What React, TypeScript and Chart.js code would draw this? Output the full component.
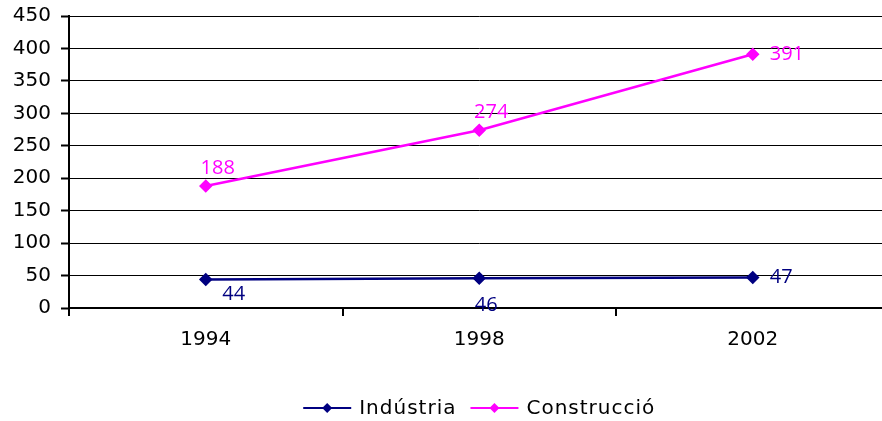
import React, { useEffect, useRef } from "react";
import { Chart, registerables } from "chart.js";

Chart.register(...registerables);

// ---- data ----
const years: string[] = ["1994", "1998", "2002"];
const industria: number[] = [44, 46, 47];
const construccio: number[] = [188, 274, 391];
const seriesNames: string[] = ["Indústria", "Construcció"];
const yMin = 0;
const yMax = 450;
const yStep = 50;

// ---- styles ----
const seriesColors = ["#000080", "#FF00FF"];
const labelPlacement: string[][] = [
  ["belowRight", "below", "right"],
  ["aboveRight", "aboveRight", "right"],
];
const AXIS_FONT = "'DejaVu Sans', sans-serif";
const LABEL_FONT = "'Open Sans', sans-serif";

const dataLabelPlugin = {
  id: "dataLabels",
  afterDatasetsDraw(chart: any) {
    const ctx = chart.ctx;
    ctx.save();
    ctx.font = `20px ${LABEL_FONT}`;
    ctx.textBaseline = "middle";
    chart.data.datasets.forEach((ds: any, di: number) => {
      const meta = chart.getDatasetMeta(di);
      meta.data.forEach((pt: any, i: number) => {
        const v = ds.data[i];
        let x = pt.x;
        let y = pt.y;
        let align: CanvasTextAlign = "center";
        switch (labelPlacement[di][i]) {
          case "right":
            x += 17;
            align = "left";
            break;
          case "aboveRight":
            x += 12;
            y -= 18;
            break;
          case "belowRight":
            x += 28;
            y += 15;
            break;
          case "below":
            x += 7;
            y += 27;
            break;
        }
        ctx.textAlign = align;
        ctx.fillStyle = seriesColors[di];
        ctx.fillText(String(v), x, y);
      });
    });
    ctx.restore();
  },
};

const legendPlugin = {
  id: "customLegend",
  afterDraw(chart: any) {
    const ctx = chart.ctx;
    const area = chart.chartArea;
    ctx.save();
    ctx.font = `20px ${AXIS_FONT}`;
    ctx.textBaseline = "middle";
    ctx.textAlign = "left";
    try {
      (ctx as any).letterSpacing = "1px";
    } catch (e) {}
    const lineW = 48;
    const gapText = 8;
    const gapItem = 14;
    const names = chart.data.datasets.map((d: any) => d.label);
    const widths = names.map((n: string) => ctx.measureText(n).width);
    let total = 0;
    widths.forEach((w: number, i: number) => {
      total += lineW + gapText + w + (i < widths.length - 1 ? gapItem : 0);
    });
    let x = (area.left + area.right) / 2 - total / 2;
    const y = 408;
    names.forEach((n: string, i: number) => {
      const c = chart.data.datasets[i].borderColor;
      ctx.strokeStyle = c;
      ctx.lineWidth = 2;
      ctx.beginPath();
      ctx.moveTo(x, y);
      ctx.lineTo(x + lineW, y);
      ctx.stroke();
      const cx = x + lineW / 2;
      ctx.fillStyle = c;
      ctx.beginPath();
      ctx.moveTo(cx, y - 5);
      ctx.lineTo(cx + 5, y);
      ctx.lineTo(cx, y + 5);
      ctx.lineTo(cx - 5, y);
      ctx.closePath();
      ctx.fill();
      ctx.fillStyle = "#000";
      ctx.fillText(n, x + lineW + gapText, y + 1);
      x += lineW + gapText + widths[i] + gapItem;
    });
    ctx.restore();
  },
};

export default function App() {
  const ref = useRef<HTMLCanvasElement | null>(null);

  useEffect(() => {
    if (!ref.current) return;
    const chart = new Chart(ref.current, {
      type: "line",
      data: {
        labels: years,
        datasets: [
          {
            label: seriesNames[0],
            data: industria,
            borderColor: seriesColors[0],
            backgroundColor: seriesColors[0],
            borderWidth: 2.5,
            pointStyle: "rectRot",
            pointRadius: 5,
            pointHoverRadius: 5,
            tension: 0,
          },
          {
            label: seriesNames[1],
            data: construccio,
            borderColor: seriesColors[1],
            backgroundColor: seriesColors[1],
            borderWidth: 2.5,
            pointStyle: "rectRot",
            pointRadius: 5,
            pointHoverRadius: 5,
            tension: 0,
          },
        ],
      },
      options: {
        responsive: false,
        animation: false,
        layout: { padding: { top: 16, right: 0, bottom: 0, left: 0 } },
        plugins: {
          legend: { display: false },
          tooltip: { enabled: false },
        },
        scales: {
          x: {
            type: "category",
            offset: true,
            grid: {
              display: true,
              drawOnChartArea: false,
              drawTicks: true,
              tickLength: 8,
              offset: true,
              color: "#000",
              tickColor: "#000",
              lineWidth: 2,
            },
            border: { display: true, color: "#000", width: 2 },
            ticks: {
              color: "#000",
              font: { family: AXIS_FONT, size: 20 },
              padding: 12,
              maxRotation: 0,
            },
            afterFit: (scale: any) => {
              scale.height = 113;
              scale.paddingLeft = 0;
              scale.paddingRight = 0;
            },
          },
          y: {
            min: yMin,
            max: yMax,
            grid: {
              color: "#000",
              lineWidth: 1,
              tickLength: 8,
              tickColor: "#000",
              tickWidth: 2,
            },
            border: { display: true, color: "#000", width: 2 },
            ticks: {
              stepSize: yStep,
              color: "#000",
              font: { family: AXIS_FONT, size: 20 },
              padding: 10,
            },
            afterFit: (scale: any) => {
              scale.width = 69;
              scale.paddingTop = 0;
              scale.paddingBottom = 0;
            },
          },
        },
      },
      plugins: [dataLabelPlugin, legendPlugin],
    });
    return () => chart.destroy();
  }, []);

  return (
    <div
      style={{
        position: "fixed",
        left: 0,
        top: 0,
        width: 882,
        height: 421,
        overflow: "hidden",
        background: "#fff",
      }}
    >
      <canvas
        ref={ref}
        width={897}
        height={421}
        style={{ display: "block", width: 897, height: 421 }}
      />
    </div>
  );
}
